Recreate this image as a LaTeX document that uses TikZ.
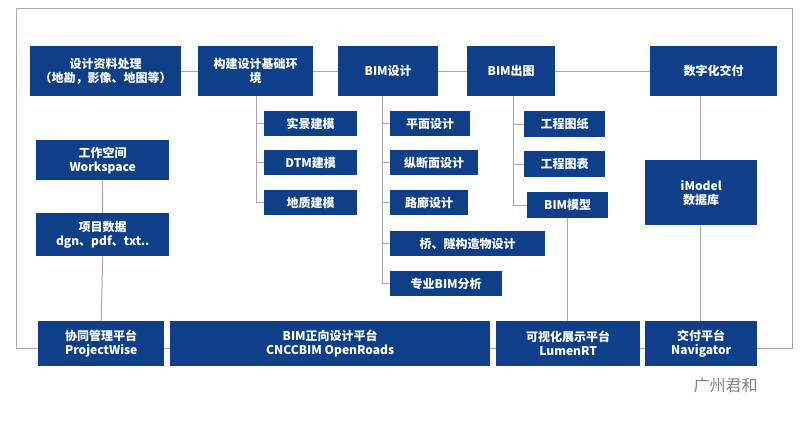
\documentclass[tikz,border=0pt]{standalone}
\usepackage{fontspec}
\setmainfont{Noto Sans CJK SC}
\definecolor{bx}{HTML}{0F3F88}
\definecolor{ln}{HTML}{A8A8A8}
\tikzset{box/.style={fill=bx,text=white,font=\bfseries\fontsize{12}{14}\selectfont,align=center,inner sep=0pt,anchor=north west},
ln/.style={draw=ln,line width=1pt}}
\newcommand{\bx}[6]{\node[box,minimum width=#4-#2,minimum height=#5-#3] (#1) at (#2,-#3) {#6};}
\begin{document}
\begin{tikzpicture}[x=1pt,y=1pt]
\useasboundingbox (0,0) rectangle (800,-424);
\draw[ln] (16,-8) rectangle (792,-348);
\bx{a}{30}{46}{181}{96}{设计资料处理\\（地勘，影像、地图等）}
\bx{b}{198}{46}{313}{96}{构建设计基础环\\境}
\bx{c}{338}{46}{438}{96}{BIM设计}
\bx{d}{467}{46}{555}{96}{BIM出图}
\bx{e}{650}{46}{777}{96}{数字化交付}
\bx{b1}{264}{111}{357}{136}{实景建模}
\bx{b2}{264}{150}{357}{175}{DTM建模}
\bx{b3}{264}{190}{357}{215}{地质建模}
\bx{c1}{390}{111}{470}{136}{平面设计}
\bx{c2}{390}{150}{478}{175}{纵断面设计}
\bx{c3}{390}{190}{468}{215}{路廊设计}
\bx{c4}{390}{231}{545}{256}{桥、隧构造物设计}
\bx{c5}{390}{271}{502}{296}{专业BIM分析}
\bx{d1}{524}{111}{605}{137}{工程图纸}
\bx{d2}{524}{151}{605}{177}{工程图表}
\bx{d3}{527}{192}{608}{218}{BIM模型}
\bx{e1}{645}{160}{757}{225}{iModel\\数据库}
\bx{w1}{36}{140}{169}{180}{工作空间\\Workspace}
\bx{w2}{36}{213}{169}{256}{项目数据\\dgn、pdf、txt..}
\bx{p1}{38}{321}{164}{366}{协同管理平台\\ProjectWise}
\bx{p2}{170}{321}{490}{366}{BIM正向设计平台\\CNCCBIM OpenRoads}
\bx{p3}{496}{321}{640}{366}{可视化展示平台\\LumenRT}
\bx{p4}{645}{321}{757}{366}{交付平台\\Navigator}
\draw[ln] (a.east) -- (b.west) (b.east) -- (c.west) (c.east) -- (d.west) (d.east) -- (e.west);
\draw[ln] (256,-96) coordinate (bt) |- (b3.west) (bt |- b1.west) -- (b1.west) (bt |- b2.west) -- (b2.west);
\draw[ln] (382,-96) coordinate (ct) |- (c5.west) (ct |- c1.west) -- (c1.west) (ct |- c2.west) -- (c2.west) (ct |- c3.west) -- (c3.west) (ct |- c4.west) -- (c4.west);
\draw[ln] (513,-96) coordinate (dt) |- (d3.west) (dt |- d1.west) -- (d1.west) (dt |- d2.west) -- (d2.west);
\draw[ln] (d3.south) -- (d3.south |- p3.north);
\draw[ln] (700,-96) -- (700,-160) (700,-225) -- (700,-321);
\draw[ln] (w1.south) -- (w2.north) (w2.south) -- (p1.north);
\node[text=gray,font=\fontsize{16}{18}\selectfont,anchor=west] (wm) at (690,-385) {广州君和};
\end{tikzpicture}
\end{document}
